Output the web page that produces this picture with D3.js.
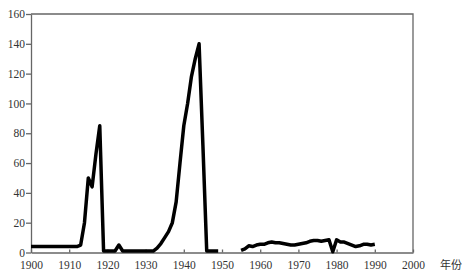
<!DOCTYPE html>
<html>
<head>
<meta charset="utf-8">
<style>
    body { margin: 0; background: #fff; }
    .axis path, .axis line { stroke: #666; stroke-width: 1.3; }
    .axis text { font-family: "Times New Roman", "Liberation Serif", "DejaVu Serif", serif !important; }
</style>
</head>
<body>
<svg width="474" height="275"></svg>
<script src="https://d3js.org/d3.v7.min.js"></script>
<script>

    // data, one value per year (null = no data)
    var years = d3.range(1900, 1991);
    var values = [
        // 1900-1909
        4, 4, 4, 4, 4, 4, 4, 4, 4, 4,
        // 1910-1919
        4, 4, 4, 5, 20, 50, 44, 66, 85, 1,
        // 1920-1929
        1, 1, 1, 5, 1, 1, 1, 1, 1, 1,
        // 1930-1939
        1, 1, 1, 3, 6, 10, 14, 20, 34, 60,
        // 1940-1949
        85, 100, 118, 130, 140, 72, 1, 1, 1, 1,
        // 1950-1959
        null, null, null, null, null, 1.5, 2.5, 4.5, 4, 5,
        // 1960-1969
        5.5, 5.5, 6.5, 7, 6.5, 6.5, 6, 5.5, 5, 5,
        // 1970-1979
        5.5, 6, 6.5, 7.5, 8, 8, 7.5, 8, 8.5, 0.5,
        // 1980-1990
        8.5, 7, 7, 6, 5, 4, 4.5, 5.5, 5.5, 5, 5.5
    ];
    var xTicks = d3.range(1900, 2001, 10);
    var yTicks = d3.range(0, 161, 20);
    var xLabel = "年份";

    var data = years.map(function (d, i) {
        return {year: d, value: values[i]};
    });

    var svg = d3.select("svg"),
        margin = {top: 14, right: 61, bottom: 22.5, left: 31},
        width = +svg.attr("width") - margin.left - margin.right,
        height = +svg.attr("height") - margin.top - margin.bottom,
        g = svg.append("g").attr("transform", "translate(" + margin.left + "," + margin.top + ")");

    var x = d3.scaleLinear().domain([1900, 2000]).range([0, width]);
    var y = d3.scaleLinear().domain([0, 160]).range([height, 0]);

    // frame: top and right sides
    g.append("path")
        .attr("d", "M0,0H" + width + "V" + height)
        .attr("fill", "none")
        .attr("stroke", "#666")
        .attr("stroke-width", 1.3);

    g.append("g")
        .attr("class", "axis")
        .attr("transform", "translate(0," + height + ")")
        .call(d3.axisBottom(x).tickValues(xTicks).tickFormat(d3.format("d"))
            .tickSizeInner(-3).tickSizeOuter(0).tickPadding(8))
        .attr("font-size", 11.5)
        .selectAll("text").attr("fill", "#333");

    g.append("g")
        .attr("class", "axis")
        .call(d3.axisLeft(y).tickValues(yTicks).tickSizeInner(5).tickSizeOuter(0).tickPadding(1))
        .attr("font-size", 11.5)
        .selectAll("text").attr("fill", "#333");

    svg.append("text")
        .attr("x", 440)
        .attr("y", 269)
        .attr("font-family", "Noto Sans CJK SC, sans-serif")
        .attr("font-size", 11)
        .attr("fill", "#333")
        .text(xLabel);

    var line = d3.line()
        .defined(function (d) { return d.value !== null; })
        .x(function (d) { return x(d.year); })
        .y(function (d) { return y(d.value); });

    g.append("path")
        .datum(data)
        .attr("fill", "none")
        .attr("stroke", "#000")
        .attr("stroke-width", 3.5)
        .attr("stroke-linejoin", "round")
        .attr("d", line);

</script>
</body>
</html>
